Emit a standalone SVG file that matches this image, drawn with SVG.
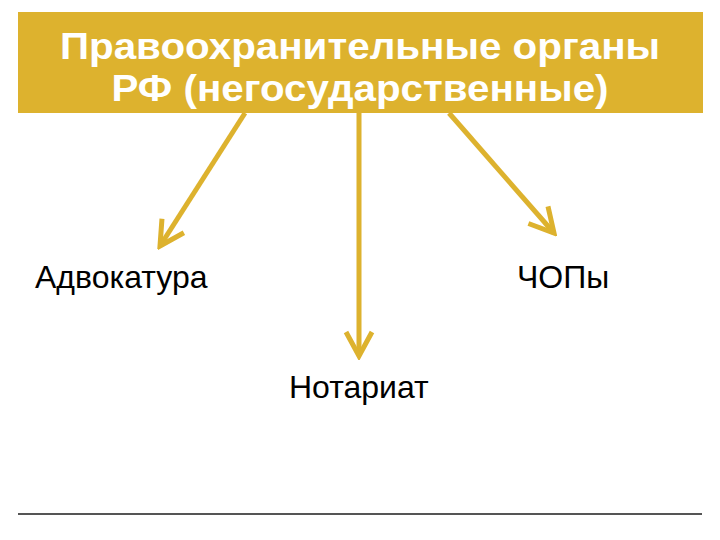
<svg xmlns="http://www.w3.org/2000/svg" width="720" height="540" viewBox="0 0 720 540">
<style>
.title{font-family:"Liberation Sans",Arial,sans-serif;font-weight:bold;font-size:36px;fill:#fff;text-anchor:middle}
.lbl{font-family:"Liberation Sans",Arial,sans-serif;font-size:32px;fill:#000}
.conn{stroke:#DDB22E;stroke-width:5;fill:none;stroke-linecap:butt}
</style>
<defs>
<marker id="ah" markerUnits="userSpaceOnUse" viewBox="-30 -20 34 40" refX="0" refY="0" markerWidth="34" markerHeight="40" orient="auto">
<path d="M-24,-13 L0,0 L-24,13" fill="none" stroke="#DDB22E" stroke-width="5" stroke-linejoin="miter"/>
</marker>
</defs>
<rect width="720" height="540" fill="#fff"/>
<g id="header">
<rect x="18" y="12" width="685" height="101" fill="#DDB22E"/>
<text class="title" x="360" y="59" textLength="600" lengthAdjust="spacingAndGlyphs">Правоохранительные органы</text>
<text class="title" x="360" y="101" textLength="497" lengthAdjust="spacingAndGlyphs">РФ (негосударственные)</text>
</g>
<g id="connectors">
<line class="conn" x1="245" y1="113" x2="160" y2="246" marker-end="url(#ah)"/>
<line class="conn" x1="359" y1="113" x2="359" y2="356" marker-end="url(#ah)"/>
<line class="conn" x1="449" y1="113" x2="554" y2="233" marker-end="url(#ah)"/>
</g>
<g id="advokatura"><text class="lbl" x="35" y="288">Адвокатура</text></g>
<g id="chopy"><text class="lbl" x="517" y="288">ЧОПы</text></g>
<g id="notariat"><text class="lbl" x="289" y="398">Нотариат</text></g>
<g id="footer"><line x1="18" y1="514" x2="702" y2="514" stroke="#555" stroke-width="2"/></g>
</svg>
